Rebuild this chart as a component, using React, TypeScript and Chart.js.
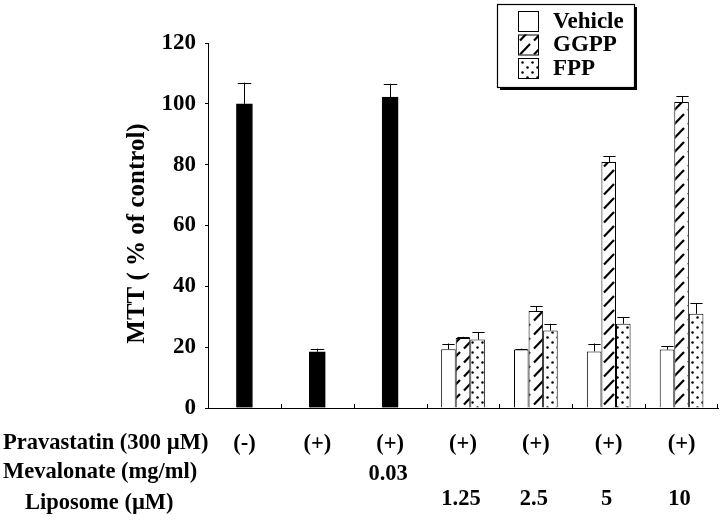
import React, { useEffect, useRef } from "react";
import { Chart, registerables } from "chart.js";

Chart.register(...registerables);

// ---------- data ----------
const categories = ["c1", "c2", "c3", "c4", "c5", "c6", "c7"];
const pravastatinRow = ["(-)", "(+)", "(+)", "(+)", "(+)", "(+)", "(+)"];
const mevalonateRow = ["", "", "0.03", "", "", "", ""];
const liposomeRow = ["", "", "", "1.25", "2.5", "5", "10"];
const rowTitles = ["Pravastatin (300 \u00b5M)", "Mevalonate (mg/ml)", "Liposome (\u00b5M)"];

const controlValues = [100, 18.5, 102.2, null, null, null, null];
const controlErrors = [7, 1, 4.4, null, null, null, null];
const vehicleValues = [null, null, null, 19.3, 19.2, 18.6, 19.2];
const vehicleErrors = [null, null, null, 1.9, 0.3, 2.6, 1.2];
const ggppValues = [null, null, null, 23.0, 31.9, 80.9, 100.6];
const ggppErrors = [null, null, null, 0.4, 1.5, 1.9, 2.0];
const fppValues = [null, null, null, 22.5, 25.5, 27.7, 31.0];
const fppErrors = [null, null, null, 2.5, 2.2, 2.2, 3.5];

const yMin = 0;
const yMax = 120;
const yStep = 20;
const yTitle = "MTT ( % of control)";

const FONT = "'Liberation Serif', 'Times New Roman', Times, serif";

function makeHatch(): CanvasPattern | string {
  const t = document.createElement("canvas");
  t.width = 14;
  t.height = 14;
  const c = t.getContext("2d");
  if (!c) return "#fff";
  c.fillStyle = "#fff";
  c.fillRect(0, 0, 14, 14);
  c.strokeStyle = "#000";
  c.lineWidth = 2.2;
  c.lineCap = "butt";
  c.beginPath();
  c.moveTo(2, 12.5);
  c.lineTo(12, 2);
  c.stroke();
  return c.createPattern(t, "repeat") || "#fff";
}

function makeDots(): CanvasPattern | string {
  const t = document.createElement("canvas");
  t.width = 10;
  t.height = 10;
  const c = t.getContext("2d");
  if (!c) return "#fff";
  c.fillStyle = "#fff";
  c.fillRect(0, 0, 10, 10);
  c.fillStyle = "#000";
  c.beginPath();
  c.arc(2.5, 2.5, 1.25, 0, Math.PI * 2);
  c.fill();
  c.beginPath();
  c.arc(7.5, 7.5, 1.25, 0, Math.PI * 2);
  c.fill();
  return c.createPattern(t, "repeat") || "#fff";
}

const errorsByDataset = [controlErrors, vehicleErrors, ggppErrors, fppErrors];

const figurePlugin = {
  id: "figurePlugin",
  afterDatasetsDraw(chart: any) {
    const ctx = chart.ctx;
    const yScale = chart.scales.y;
    ctx.save();
    ctx.strokeStyle = "#000";
    ctx.lineWidth = 1;
    chart.data.datasets.forEach((ds: any, di: number) => {
      const meta = chart.getDatasetMeta(di);
      const errs = errorsByDataset[di];
      meta.data.forEach((bar: any, j: number) => {
        const v = ds.data[j];
        const e = errs[j];
        if (v === null || v === undefined || e === null || e === undefined) return;
        const x = Math.round(bar.x) + 0.5;
        const yTop = bar.y;
        const yErr = yScale.getPixelForValue(v + e);
        const half = bar.width * 0.42;
        ctx.beginPath();
        ctx.moveTo(x, yTop);
        ctx.lineTo(x, yErr);
        ctx.moveTo(x - half, Math.round(yErr) + 0.5);
        ctx.lineTo(x + half, Math.round(yErr) + 0.5);
        ctx.stroke();
      });
    });
    ctx.restore();
  },
  afterDraw(chart: any) {
    const ctx = chart.ctx;
    const xScale = chart.scales.x;
    const area = chart.chartArea;
    ctx.save();

    // inside tick marks at category boundaries on x axis
    ctx.strokeStyle = "#000";
    ctx.lineWidth = 1;
    for (let i = 1; i <= categories.length; i++) {
      const xp =
        i < categories.length
          ? (xScale.getPixelForValue(i - 1) + xScale.getPixelForValue(i)) / 2
          : area.right - 1;
      const xr = Math.round(xp) + 0.5;
      ctx.beginPath();
      ctx.moveTo(xr, area.bottom);
      ctx.lineTo(xr, area.bottom - 4);
      ctx.stroke();
    }

    // y axis title
    ctx.save();
    ctx.translate(138, (area.top + area.bottom) / 2 + 8);
    ctx.rotate(-Math.PI / 2);
    ctx.fillStyle = "#000";
    ctx.font = `bold 25px ${FONT}`;
    ctx.textAlign = "center";
    ctx.textBaseline = "middle";
    ctx.fillText(yTitle, 0, 0);
    ctx.restore();

    // legend box
    const bx = 497, by = 4, bw = 137, bh = 83;
    ctx.fillStyle = "#000";
    ctx.fillRect(bx + 3, by + 3, bw, bh);
    ctx.fillStyle = "#fff";
    ctx.fillRect(bx, by, bw, bh);
    ctx.strokeStyle = "#000";
    ctx.lineWidth = 1.2;
    ctx.strokeRect(bx + 0.5, by + 0.5, bw, bh);
    const legendSets = chart.data.datasets.filter((d: any) => d.label);
    legendSets.forEach((d: any, k: number) => {
      const sy = 11 + k * 23.5;
      ctx.fillStyle = d.backgroundColor;
      ctx.fillRect(518, sy, 20, 20);
      ctx.strokeStyle = "#000";
      ctx.lineWidth = 1;
      ctx.strokeRect(518.5, sy + 0.5, 20, 20);
      ctx.fillStyle = "#000";
      ctx.font = `bold 23px ${FONT}`;
      ctx.textAlign = "left";
      ctx.textBaseline = "middle";
      ctx.fillText(d.label, 553, sy + 11);
    });

    // bottom table
    ctx.fillStyle = "#000";
    ctx.font = `bold 22.5px ${FONT}`;
    ctx.textBaseline = "middle";
    ctx.textAlign = "left";
    ctx.fillText(rowTitles[0], 3, 443);
    ctx.fillText(rowTitles[1], 3, 472);
    ctx.fillText(rowTitles[2], 25, 503);
    ctx.textAlign = "center";
    categories.forEach((_, i) => {
      const cx = xScale.getPixelForValue(i);
      if (pravastatinRow[i]) ctx.fillText(pravastatinRow[i], cx, 444);
      if (mevalonateRow[i]) ctx.fillText(mevalonateRow[i], cx - 2, 474);
      if (liposomeRow[i]) ctx.fillText(liposomeRow[i], cx - 2, 499);
    });
    ctx.restore();
  },
};

export default function App() {
  const ref = useRef<HTMLCanvasElement | null>(null);
  useEffect(() => {
    if (!ref.current) return;
    const hatch = makeHatch();
    const dots = makeDots();
    const chart = new Chart(ref.current, {
      type: "bar",
      data: {
        labels: categories,
        datasets: [
          {
            label: "",
            data: controlValues,
            backgroundColor: "#000",
            borderColor: "#000",
            borderWidth: 1,
            barPercentage: 1,
            categoryPercentage: 1,
            maxBarThickness: 16,
            skipNull: true,
          } as any,
          {
            label: "Vehicle",
            data: vehicleValues,
            backgroundColor: "#fff",
            borderColor: "#000",
            borderWidth: 1,
            barPercentage: 1,
            categoryPercentage: 0.6,
            skipNull: true,
          } as any,
          {
            label: "GGPP",
            data: ggppValues,
            backgroundColor: hatch,
            borderColor: "#000",
            borderWidth: 1,
            barPercentage: 1,
            categoryPercentage: 0.6,
            skipNull: true,
          } as any,
          {
            label: "FPP",
            data: fppValues,
            backgroundColor: dots,
            borderColor: "#000",
            borderWidth: 1,
            barPercentage: 1,
            categoryPercentage: 0.6,
            skipNull: true,
          } as any,
        ],
      },
      options: {
        animation: false,
        responsive: true,
        maintainAspectRatio: false,
        layout: { padding: { top: 43, right: 2, left: 0, bottom: 0 } },
        plugins: {
          legend: { display: false },
          tooltip: { enabled: false },
          title: { display: false },
        },
        scales: {
          x: {
            type: "category",
            ticks: { display: false },
            grid: { display: false },
            border: { display: true, color: "#000", width: 1 },
            afterFit: (s: any) => {
              s.height = 113;
            },
          },
          y: {
            min: yMin,
            max: yMax,
            ticks: {
              stepSize: yStep,
              color: "#000",
              padding: 9,
              font: { family: FONT, size: 23, weight: "bold" },
            },
            grid: {
              display: true,
              drawOnChartArea: false,
              drawTicks: true,
              tickLength: 3,
              color: "#000",
              lineWidth: 1,
            },
            border: { display: true, color: "#000", width: 1 },
            afterFit: (s: any) => {
              s.width = 208;
            },
          },
        },
      } as any,
      plugins: [figurePlugin],
    });
    return () => chart.destroy();
  }, []);
  return (
    <div style={{ position: "fixed", left: 0, top: 0, width: 720, height: 521, background: "#fff" }}>
      <canvas ref={ref} />
    </div>
  );
}
